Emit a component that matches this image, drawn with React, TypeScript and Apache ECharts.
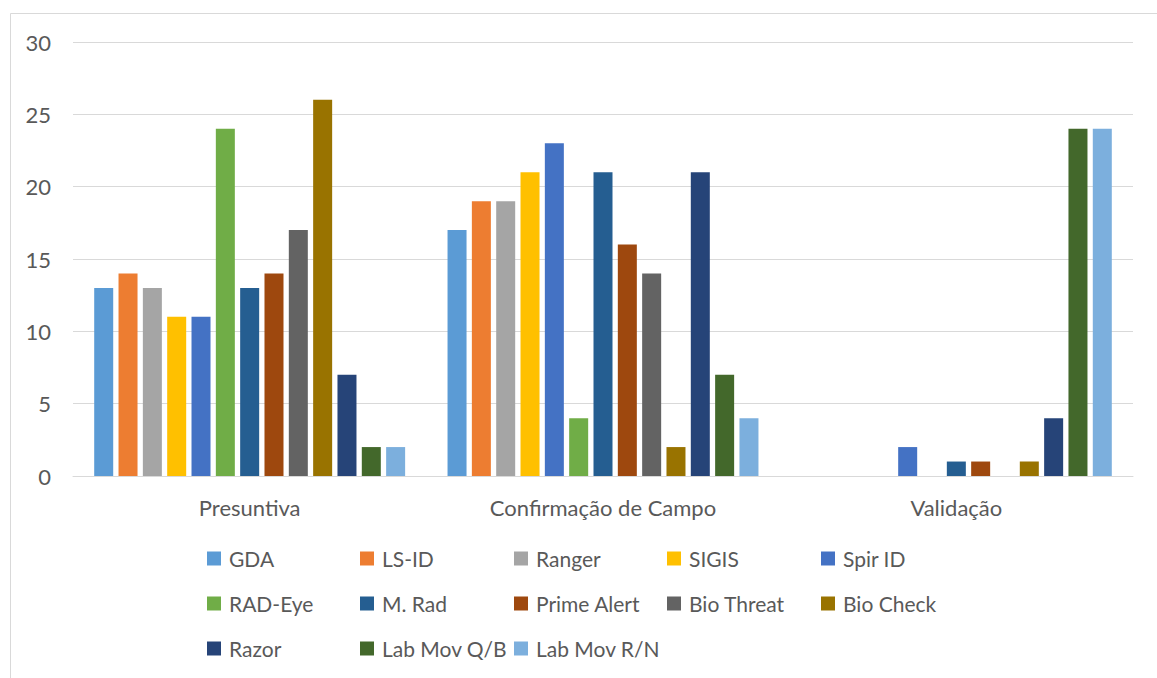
import React, { useEffect, useRef } from "react";
import * as echarts from "echarts";

const categories = ["Presuntiva", "Confirmação de Campo", "Validação"];
const seriesNames = [
  "GDA", "LS-ID", "Ranger", "SIGIS", "Spir ID",
  "RAD-Eye", "M. Rad", "Prime Alert", "Bio Threat", "Bio Check",
  "Razor", "Lab Mov Q/B", "Lab Mov R/N",
];
const gda = [13, 17, 0];
const lsId = [14, 19, 0];
const ranger = [13, 19, 0];
const sigis = [11, 21, 0];
const spirId = [11, 23, 2];
const radEye = [24, 4, 0];
const mRad = [13, 21, 1];
const primeAlert = [14, 16, 1];
const bioThreat = [17, 14, 0];
const bioCheck = [26, 2, 1];
const razor = [7, 21, 4];
const labMovQB = [2, 7, 24];
const labMovRN = [2, 4, 24];
const seriesValues = [gda, lsId, ranger, sigis, spirId, radEye, mRad, primeAlert, bioThreat, bioCheck, razor, labMovQB, labMovRN];
const colors = [
  "#5B9BD5", "#ED7D31", "#A5A5A5", "#FFC000", "#4472C4",
  "#70AD47", "#255E91", "#9E480E", "#636363", "#997300",
  "#264478", "#43682B", "#7CAFDD",
];
const yTicks = { min: 0, max: 30, interval: 5 };

const FONT = "Lato, 'Open Sans', sans-serif";
const TEXT = "#595959";
const FS = 22;
const LFS = 21;

export default function App() {
  const ref = useRef<HTMLDivElement>(null);
  useEffect(() => {
    document.body.style.margin = "0";
    document.body.style.overflow = "hidden";
    if (!ref.current) return;
    const chart = echarts.init(ref.current, undefined, { renderer: "svg" });
    const colLeft = [207, 360, 514, 667, 821];
    const rowCenter = [559, 604, 649];
    const legends = seriesNames.map((name, i) => ({
      data: [name],
      left: colLeft[i % 5] - 5,
      top: rowCenter[Math.floor(i / 5)] - 11 - 5,
      icon: "rect",
      itemWidth: 14,
      itemHeight: 14,
      itemGap: 0,
      textStyle: { fontFamily: FONT, fontSize: LFS, color: TEXT, padding: [0, 0, 0, 3] },
    }));
    chart.setOption({
      animation: false,
      color: colors,
      textStyle: { fontFamily: FONT },
      graphic: [
        {
          type: "rect",
          shape: { x: 10.5, y: 13.5, width: 1170, height: 700 },
          style: { fill: "none", stroke: "#d9d9d9", lineWidth: 1 },
          silent: true,
        },
      ],
      legend: legends,
      grid: { left: 73, right: 24, top: 42, bottom: 202, containLabel: false },
      xAxis: {
        type: "category",
        data: categories,
        axisLine: { lineStyle: { color: "#d9d9d9", width: 1 } },
        axisTick: { show: false },
        axisLabel: { color: TEXT, fontFamily: FONT, fontSize: FS, margin: 20 },
      },
      yAxis: {
        type: "value",
        min: yTicks.min,
        max: yTicks.max,
        interval: yTicks.interval,
        axisLine: { show: false },
        axisTick: { show: false },
        axisLabel: { color: TEXT, fontFamily: FONT, fontSize: FS, margin: 22 },
        splitLine: { lineStyle: { color: "#d9d9d9", width: 1 } },
      },
      series: seriesNames.map((name, i) => ({
        name,
        type: "bar",
        data: seriesValues[i],
        barGap: "28%",
        barCategoryGap: "12%",
        itemStyle: { color: colors[i] },
      })),
    });
    return () => chart.dispose();
  }, []);
  return <div ref={ref} style={{ width: 1157, height: 678 }} />;
}
